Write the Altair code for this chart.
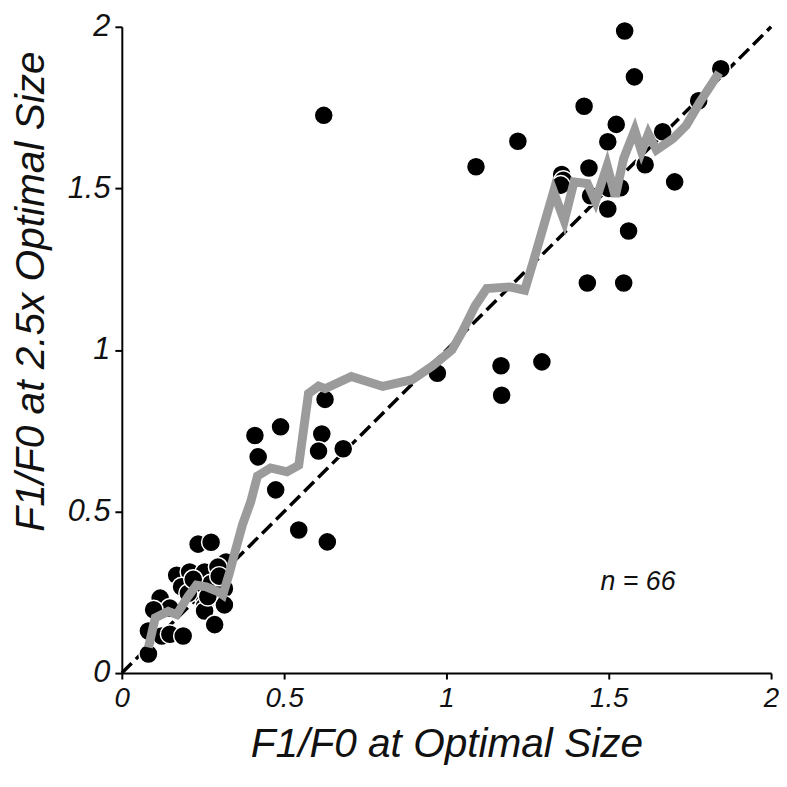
import altair as alt
import pandas as pd

# scatter points (x = F1/F0 at optimal size, y = F1/F0 at 2.5x optimal size)
pt_x = [1.549, 1.579, 1.424, 1.523, 1.497, 1.666, 1.777, 1.845, 1.355, 1.360,
        1.439, 1.612, 1.703, 1.536, 1.444, 1.497, 1.561, 1.434, 1.546, 1.220,
        1.091, 1.294, 1.168, 1.170, 0.972, 0.622, 1.500, 1.352,
        0.626, 0.489, 0.410, 0.616, 0.420, 0.606, 0.682, 0.474, 0.545, 0.633,
        0.235, 0.275, 0.321, 0.169, 0.209, 0.255, 0.184, 0.235, 0.275, 0.316,
        0.118, 0.148, 0.255, 0.255, 0.255, 0.316, 0.098, 0.082, 0.123, 0.148,
        0.189, 0.286, 0.082, 0.205, 0.296, 0.265, 0.300, 0.220]
pt_y = [1.987, 1.845, 1.754, 1.698, 1.644, 1.675, 1.771, 1.870, 1.543, 1.525,
        1.563, 1.573, 1.520, 1.502, 1.477, 1.436, 1.368, 1.207, 1.207, 1.646,
        1.567, 0.963, 0.951, 0.860, 0.928, 1.726, 1.500, 1.510,
        0.847, 0.762, 0.735, 0.740, 0.669, 0.687, 0.694, 0.567, 0.443, 0.406,
        0.399, 0.405, 0.344, 0.303, 0.313, 0.313, 0.267, 0.262, 0.277, 0.262,
        0.232, 0.201, 0.227, 0.207, 0.192, 0.211, 0.196, 0.130, 0.115, 0.120,
        0.115, 0.150, 0.059, 0.247, 0.328, 0.237, 0.300, 0.290]

# running average (gray line)
avg_x = [0.082, 0.103, 0.143, 0.169, 0.204, 0.230, 0.260, 0.296, 0.311, 0.331,
         0.347, 0.372, 0.397, 0.418, 0.458, 0.509, 0.545, 0.575, 0.606, 0.626,
         0.707, 0.804, 0.895, 0.956, 1.017, 1.048, 1.088, 1.124, 1.195, 1.241,
         1.266, 1.330, 1.363, 1.393, 1.434, 1.459, 1.495, 1.520, 1.546, 1.580,
         1.601, 1.622, 1.647, 1.698, 1.739, 1.780, 1.840]
avg_y = [0.079, 0.171, 0.191, 0.181, 0.237, 0.272, 0.267, 0.252, 0.242, 0.308,
         0.369, 0.460, 0.530, 0.610, 0.635, 0.623, 0.643, 0.865, 0.888, 0.880,
         0.918, 0.887, 0.908, 0.950, 1.000, 1.055, 1.136, 1.190, 1.195, 1.185,
         1.268, 1.490, 1.400, 1.520, 1.515, 1.460, 1.570, 1.475, 1.593, 1.680,
         1.614, 1.669, 1.619, 1.654, 1.695, 1.766, 1.858]

diag = [0, 2]
tick_vals = [0, 0.5, 1, 1.5, 2]

pts = pd.DataFrame({"x": pt_x, "y": pt_y})
avg = pd.DataFrame({"x": avg_x, "y": avg_y, "i": list(range(len(avg_x)))})
dg = pd.DataFrame({"x": diag, "y": diag})
note = pd.DataFrame({"x": [1.59], "y": [0.283], "t": ["n = 66"]})

FONT = "Liberation Sans"

xs = alt.Scale(domain=[0, 2], nice=False, zero=False)
ys = alt.Scale(domain=[0, 2], nice=False, zero=False)

common = dict(values=tick_vals, grid=False, format="~g",
              labelFontStyle="italic", labelFont=FONT,
              labelColor="#111", titleFontSize=41, titleFontStyle="italic",
              titleFont=FONT, titleFontWeight="normal", titleColor="#111",
              domainColor="black", domainWidth=2, tickColor="black", tickWidth=2,
              labelFlush=False, labelOverlap=False)

x_axis = alt.Axis(title="F1/F0 at Optimal Size", tickSize=6, labelPadding=6,
                  labelFontSize=28, titleBaseline="middle", titleY=72, **common)
y_axis = alt.Axis(title="F1/F0 at 2.5x Optimal Size", tickSize=7, labelPadding=5,
                  labelFontSize=31, titleAngle=270, titleAlign="center",
                  titleBaseline="middle", titleX=-91, titleY=267, **common)

diag_line = alt.Chart(dg).mark_line(color="black", strokeWidth=3.5, strokeDash=[14, 6]).encode(
    x=alt.X("x:Q", scale=xs, axis=x_axis),
    y=alt.Y("y:Q", scale=ys, axis=y_axis),
)

dots = alt.Chart(pts).mark_point(filled=True, shape="circle", size=370, fill="black",
                                  stroke="white", strokeWidth=1.5, opacity=1).encode(
    x=alt.X("x:Q", scale=xs),
    y=alt.Y("y:Q", scale=ys),
)

avg_line = alt.Chart(avg).mark_line(color="#9b9b9b", strokeWidth=9, strokeJoin="miter").encode(
    x=alt.X("x:Q", scale=xs),
    y=alt.Y("y:Q", scale=ys),
    order="i:Q",
)

txt = alt.Chart(note).mark_text(fontSize=27, fontStyle="italic", font=FONT, color="#111",
                                align="center", baseline="middle").encode(
    x=alt.X("x:Q", scale=xs),
    y=alt.Y("y:Q", scale=ys),
    text="t:N",
)

chart = alt.layer(diag_line, dots, avg_line, txt).properties(
    width=656, height=653,
    autosize=alt.AutoSizeParams(type="none"),
    padding={"left": 115, "top": 15, "right": 8, "bottom": 100},
    background="white",
).configure_view(stroke=None)

chart.save("out.html", embed_options={"renderer": "svg", "actions": False})
